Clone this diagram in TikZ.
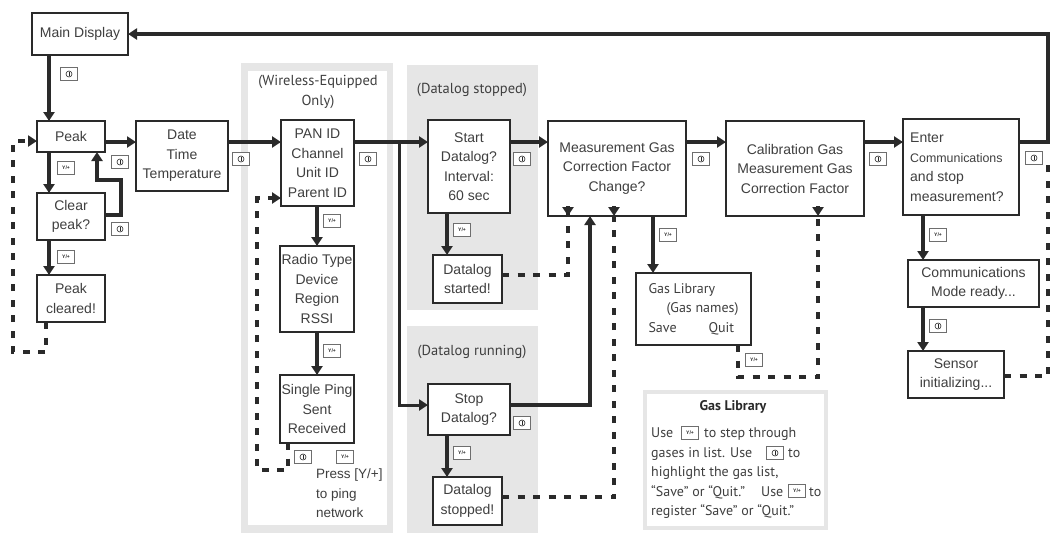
\documentclass[tikz,border=0pt]{standalone}
\usepackage{fontspec}
\setmainfont{Liberation Sans}
\newfontfamily\myr{PT Sans}
\usetikzlibrary{arrows.meta,calc}
\definecolor{ink}{HTML}{2A2A2A}
\definecolor{txt}{HTML}{3F3F3F}
\definecolor{pan}{HTML}{E6E6E6}
\definecolor{keyc}{HTML}{6E6E6E}
\tikzset{
  box/.style={draw=ink,line width=1.4pt,fill=white,inner sep=0pt,outer sep=0pt,align=center,text=txt,
    font=\fontsize{14}{19.5}\selectfont},
  flow/.style={draw=ink,line width=3.2pt,-{Triangle[width=11pt,length=9pt]}},
  flowp/.style={draw=ink,line width=3.2pt},
  dsh/.style={draw=ink,line width=3.2pt,dash pattern=on 7pt off 8.5pt},
  key/.style={draw=keyc,line width=1pt,fill=white,minimum width=17pt,minimum height=13pt,inner sep=0pt,text=ink},
  captxt/.style={text=txt,align=center,font=\myr\fontsize{14.5}{20}\selectfont},
  note/.style={text=txt,anchor=base west,inner sep=0pt,font=\myr\fontsize{14}{19}\selectfont},
}
\newcommand\pwkey[2]{\node[key] (#1) at (#2) {};
  \draw[ink,line width=.6pt] (#1) circle (3pt); \draw[ink,line width=.7pt] ($(#1)+(0,2pt)$) -- ($(#1)+(0,-2pt)$);}
\newcommand\ykey[2]{\node[key,font=\bfseries\fontsize{5}{5}\selectfont] (#1) at (#2) {Y/+};}
\begin{document}
\begin{tikzpicture}[x=1pt,y=-1pt]
\useasboundingbox (0,0) rectangle (1057,542);
% panels
\node[fill=pan,minimum width=152pt,minimum height=470pt,inner sep=0pt] (pw) at (317,298) {};
\node[fill=white,minimum width=139pt,minimum height=454pt,inner sep=0pt] (pwi) at (317.5,298) {};
\node[fill=pan,minimum width=131pt,minimum height=245pt,inner sep=0pt] (ps) at (472.5,187.5) {};
\node[fill=pan,minimum width=131pt,minimum height=207pt,inner sep=0pt] (pr) at (472.5,429.5) {};
\node[draw=pan,line width=4.5pt,fill=white,minimum width=181pt,minimum height=136pt,inner sep=0pt] (pg) at (735.5,460) {};
% captions
\node[captxt] (capw) at (318,92) {(Wireless-Equipped\\Only)};
\node[captxt] (caps) at (472,90) {(Datalog stopped)};
\node[captxt] (capr) at (472,352) {(Datalog running)};
% boxes
\node[box,minimum width=96pt,minimum height=42pt] (main) at (80,34) {Main Display};
\node[box,minimum width=68pt,minimum height=31pt] (peak) at (71,136.5) {Peak};
\node[box,minimum width=92pt,minimum height=70pt] (date) at (182,156) {Date\\Time\\Temperature};
\node[box,minimum width=68pt,minimum height=47pt] (clear) at (71,216.5) {Clear\\peak?};
\node[box,minimum width=68pt,minimum height=47pt] (cleared) at (71,298.5) {Peak\\cleared!};
\node[box,minimum width=73pt,minimum height=86pt] (pan) at (317.5,163) {PAN ID\\Channel\\Unit ID\\Parent ID};
\node[box,minimum width=74pt,minimum height=86pt] (radio) at (317,289) {Radio Type\\Device\\Region\\RSSI};
\node[box,minimum width=74pt,minimum height=68pt] (ping) at (317,409) {Single Ping\\Sent\\Received};
\node[box,minimum width=82pt,minimum height=93pt] (start) at (469,166.5) {Start\\Datalog?\\Interval:\\60 sec};
\node[box,minimum width=69pt,minimum height=48pt] (started) at (467.5,279) {Datalog\\started!};
\node[box,minimum width=82pt,minimum height=51pt] (stop) at (469,409.5) {Stop\\Datalog?};
\node[box,minimum width=69pt,minimum height=48pt] (stopped) at (467.5,501) {Datalog\\stopped!};
\node[box,minimum width=138pt,minimum height=95pt] (meas) at (617,168.5) {Measurement Gas\\Correction Factor\\Change?};
\node[box,minimum width=138pt,minimum height=95pt] (cal) at (795,168.5) {Calibration Gas\\Measurement Gas\\Correction Factor};
\node[box,minimum width=116pt,minimum height=96pt] (enter) at (961,167) {};
\node[text=txt,inner sep=0pt,font=\fontsize{14}{19.5}\selectfont,align=left,anchor=west] (entert) at (910,167) {Enter\\{\fontsize{12.4}{19.5}\selectfont Communications}\\and stop\\measurement?};
\node[box,minimum width=131pt,minimum height=47pt] (comm) at (973.5,283.5) {Communications\\Mode ready...};
\node[box,minimum width=96pt,minimum height=47pt] (sensor) at (956,374.5) {Sensor\\initializing...};
\node[box,minimum width=115pt,minimum height=72pt,align=left,font=\myr\fontsize{14}{19.5}\selectfont] (lib) at (693.5,309) {Gas Library\\\hspace*{18pt}(Gas names)\\Save\hspace{32pt}Quit};
% routing coordinates
\coordinate (xa) at (49,0); \coordinate (xb) at (317,0); \coordinate (xc) at (447,0);
\coordinate (xd) at (653,0); \coordinate (xe) at (923,0); \coordinate (xf) at (399,142);
\coordinate (ya) at (0,142); \coordinate (yb) at (0,405);
\coordinate (r1) at (121,215); \coordinate (r2) at (121,180); \coordinate (r3) at (97,180);
\coordinate (top1) at (1048,142); \coordinate (top2) at (1048,34);
\coordinate (d1) at (46,352); \coordinate (d2) at (13,352); \coordinate (d3) at (13,141);
\coordinate (e1) at (288,470); \coordinate (e2) at (257,470); \coordinate (e3) at (257,198);
\coordinate (f1) at (568,275); \coordinate (g1) at (590,405); \coordinate (h1) at (614,497);
\coordinate (k1) at (738,377); \coordinate (k2) at (818,377);
\coordinate (m1) at (1048,376); \coordinate (m2) at (1048,158);
% solid connectors
\draw[flow] (main.south -| xa) -- (peak.north -| xa);
\draw[flow] (peak.east |- ya) -- (date.west |- ya);
\draw[flow] (date.east |- ya) -- (pan.west |- ya);
\draw[flow] (pan.east |- ya) -- (start.west |- ya);
\draw[flow,line width=3pt] (xf) |- (stop.west |- yb);
\draw[flow] (start.east |- ya) -- (meas.west |- ya);
\draw[flow] (meas.east |- ya) -- (cal.west |- ya);
\draw[flow] (cal.east |- ya) -- (enter.west |- ya);
\draw[flow] (enter.east |- ya) -- (top1) -- (top2) -- (main.east |- top2);
\draw[flow] (peak.south -| xa) -- (clear.north -| xa);
\draw[flow] (clear.south -| xa) -- (cleared.north -| xa);
\draw[flow] (clear.east |- r1) -- (r1) -- (r2) -- (r3) -- (peak.south -| r3);
\draw[flow] (pan.south -| xb) -- (radio.north -| xb);
\draw[flow] (radio.south -| xb) -- (ping.north -| xb);
\draw[flow] (start.south -| xc) -- (started.north -| xc);
\draw[flow] (stop.south -| xc) -- (stopped.north -| xc);
\draw[flow] (meas.south -| xd) -- (lib.north -| xd);
\draw[flow] (enter.south -| xe) -- (comm.north -| xe);
\draw[flow] (comm.south -| xe) -- (sensor.north -| xe);
\draw[flow] (stop.east |- g1) -- (g1) -- (meas.south -| g1);
% dashed connectors
\draw[dsh] (cleared.south -| d1) -- (d1) -- (d2) -- (d3) -- ([xshift=-8pt]peak.west |- d3);
\draw[flow] ([xshift=-8pt]peak.west |- d3) -- (peak.west |- d3);
\draw[dsh] (ping.south -| e1) -- (e1) -- (e2) -- (e3) -- ([xshift=-9pt]pan.west |- e3);
\draw[flow] ([xshift=-9pt]pan.west |- e3) -- (pan.west |- e3);
\draw[dsh] (started.east |- f1) -- (f1) -- ([yshift=10pt]meas.south -| f1);
\draw[flow] ([yshift=10pt]meas.south -| f1) -- (meas.south -| f1);
\draw[dsh] (stopped.east |- h1) -- (h1) -- ([yshift=10pt]meas.south -| h1);
\draw[flow] ([yshift=10pt]meas.south -| h1) -- (meas.south -| h1);
\draw[dsh] (lib.south -| k1) -- (k1) -- (k2) -- ([yshift=10pt]cal.south -| k2);
\draw[flow] ([yshift=10pt]cal.south -| k2) -- (cal.south -| k2);
\draw[dsh] (sensor.east |- m1) -- (m1) -- (m2);
% keys
\pwkey{k1a}{69,74}
\pwkey{k1b}{120,162}
\pwkey{k1c}{120,229}
\pwkey{k1d}{241,159}
\pwkey{k1e}{368,159}
\pwkey{k1f}{303,457}
\pwkey{k1g}{522,159}
\pwkey{k1h}{522,423}
\pwkey{k1i}{701,159}
\pwkey{k1j}{878,159}
\pwkey{k1k}{1034,158}
\pwkey{k1l}{938,326}
\ykey{y1a}{66,168}
\ykey{y1b}{66,257}
\ykey{y1c}{332,221}
\ykey{y1d}{332,351}
\ykey{y1e}{345,457}
\ykey{y1f}{462,230}
\ykey{y1g}{462,453}
\ykey{y1h}{668,235}
\ykey{y1i}{938,235}
\ykey{y1j}{754,360}
% ping note
\node[text=txt,align=left,anchor=north west,inner sep=0pt,font=\fontsize{13.5}{19.5}\selectfont] (pn) at (316,469) {Press [Y/+]\\to ping\\network};
% gas library note
\node[text=ink,inner sep=0pt,font=\myr\bfseries\fontsize{14}{16}\selectfont] (gt) at (733,407) {Gas Library};
\node[note] (g1a) at (651,437.5) {Use};
\ykey{gk1}{690,433}
\node[note] (g1b) at (704,437.5) {to step through};
\node[note] (g2a) at (651,457) {gases in list. Use};
\pwkey{gk2}{775,453}
\node[note] (g2b) at (788,457) {to};
\node[note] (g3) at (651,476.5) {highlight the gas list,};
\node[note] (g4a) at (651,496) {“Save” or “Quit.”};
\node[note] (g4b) at (761,496) {Use};
\ykey{gk3}{797,491}
\node[note] (g4c) at (809,496) {to};
\node[note] (g5) at (651,515.5) {register “Save” or “Quit.”};
\end{tikzpicture}
\end{document}
